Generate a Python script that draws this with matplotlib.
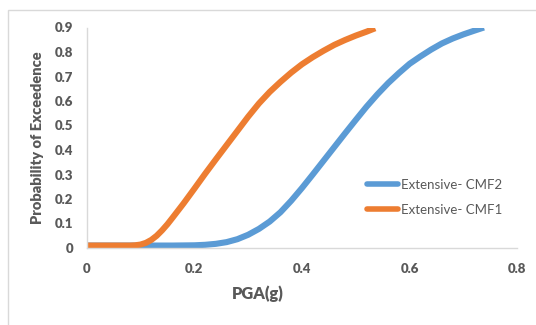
import matplotlib
matplotlib.use("Agg")
import matplotlib.pyplot as plt
from matplotlib.patches import Rectangle

# values
PGA_CMF1  = [0.00, 0.04, 0.08, 0.09, 0.10, 0.11, 0.12, 0.13, 0.14, 0.15, 0.16, 0.18,
             0.20, 0.22, 0.24, 0.26, 0.28, 0.30, 0.32, 0.34, 0.36, 0.38, 0.40, 0.42,
             0.44, 0.46, 0.48, 0.50, 0.52, 0.536]
PROB_CMF1 = [0.010, 0.010, 0.010, 0.011, 0.014, 0.021, 0.033, 0.050, 0.072, 0.097, 0.125, 0.182,
             0.242, 0.303, 0.362, 0.420, 0.478, 0.536, 0.590, 0.637, 0.678, 0.716, 0.750, 0.779,
             0.805, 0.829, 0.849, 0.867, 0.883, 0.897]

PGA_CMF2  = [0.00, 0.04, 0.08, 0.12, 0.16, 0.20, 0.22, 0.24, 0.26, 0.28, 0.30, 0.32,
             0.34, 0.36, 0.38, 0.40, 0.42, 0.44, 0.46, 0.48, 0.50, 0.52, 0.54, 0.56,
             0.58, 0.60, 0.62, 0.64, 0.66, 0.68, 0.70, 0.72, 0.738]
PROB_CMF2 = [0.010, 0.010, 0.010, 0.010, 0.010, 0.011, 0.013, 0.017, 0.024, 0.036, 0.054, 0.078,
             0.108, 0.146, 0.193, 0.245, 0.300, 0.356, 0.412, 0.468, 0.523, 0.577, 0.627, 0.673,
             0.714, 0.752, 0.782, 0.810, 0.835, 0.855, 0.872, 0.887, 0.900]

X_TICKS = [0, 0.2, 0.4, 0.6, 0.8]
Y_TICKS = [0, 0.1, 0.2, 0.3, 0.4, 0.5, 0.6, 0.7, 0.8, 0.9]

BLUE   = "#5B9BD5"
ORANGE = "#ED7D31"
GREY   = "#595959"
FRAME  = "#D9D9D9"

W, H = 536, 325
plt.rcParams["font.family"] = ["Lato", "DejaVu Sans"]

fig = plt.figure(figsize=(W / 100, H / 100), dpi=100)
fig.patches.append(Rectangle((8 / W, -0.1), 1.2, (H - 10) / H + 0.1,
                             transform=fig.transFigure, fill=False,
                             edgecolor=FRAME, linewidth=1))

ax = fig.add_axes([86.7 / W, (H - 248) / H, (517.3 - 86.7) / W, (248 - 27.5) / H])

l2, = ax.plot(PGA_CMF2, PROB_CMF2, color=BLUE, linewidth=4.4,
              solid_capstyle="butt", solid_joinstyle="round", label="Extensive- CMF2")
l1, = ax.plot(PGA_CMF1, PROB_CMF1, color=ORANGE, linewidth=4.4,
              solid_capstyle="butt", solid_joinstyle="round", label="Extensive- CMF1")

ax.set_xlim(0, 0.8)
ax.set_ylim(0, 0.9)
ax.set_xticks(X_TICKS)
ax.set_xticklabels([f"{t:g}" for t in X_TICKS])
ax.set_yticks(Y_TICKS)
ax.set_yticklabels([f"{t:g}" for t in Y_TICKS])
ax.tick_params(length=0, labelsize=9.5, labelcolor=GREY)
ax.tick_params(axis="x", pad=10.5)
ax.tick_params(axis="y", pad=9.5)
for lab in ax.get_xticklabels() + ax.get_yticklabels():
    lab.set_fontweight("heavy")

for side in ("top", "right"):
    ax.spines[side].set_visible(False)
for side in ("left", "bottom"):
    ax.spines[side].set_color(FRAME)
    ax.spines[side].set_linewidth(1)

ax.set_ylabel("Probability of Exceedence", fontsize=10.5, fontweight="heavy",
              color=GREY, labelpad=8)
fig.text(257.5 / W, 1 - 294 / H, "PGA(g)", fontsize=11.8, fontweight="heavy",
         color=GREY, ha="center", va="center")

leg = ax.legend(handles=[l2, l1], loc="upper left",
                bbox_to_anchor=(366.7 / W, 1 - 179 / H), bbox_transform=fig.transFigure,
                frameon=False, fontsize=9.5, handlelength=2.4, handletextpad=0.2,
                labelspacing=0.95, borderpad=0, borderaxespad=0)
for t in leg.get_texts():
    t.set_color(GREY)
for h in leg.legend_handles:
    h.set_solid_capstyle("round")
    h.set_linewidth(4)

fig.savefig("out.png", dpi=100)
